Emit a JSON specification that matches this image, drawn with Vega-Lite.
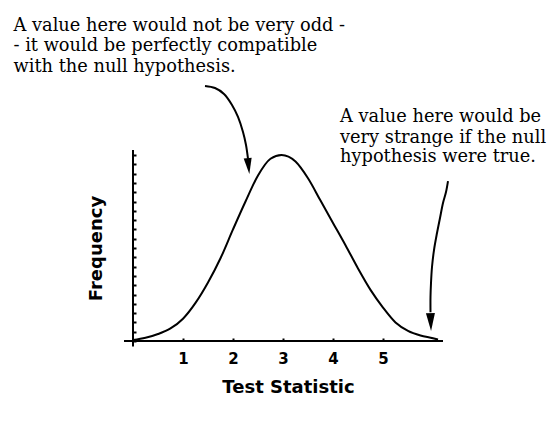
{
  "$schema": "https://vega.github.io/schema/vega-lite/v6.json",
  "width": 310,
  "height": 186,
  "autosize": "none",
  "padding": {"left": 133, "top": 155, "right": 114, "bottom": 84},
  "background": "white",
  "config": {
    "view": {"stroke": null},
    "axis": {
      "domain": false,
      "grid": false,
      "tickColor": "black",
      "tickWidth": 2,
      "tickSize": -3,
      "labelFont": "DejaVu Sans",
      "labelFontWeight": "bold",
      "labelFontSize": 15,
      "labelColor": "black",
      "titleFont": "DejaVu Sans",
      "titleFontWeight": "bold",
      "titleFontSize": 18,
      "titleColor": "black"
    }
  },
  "datasets": {
    "curve": [
      {"x": 0, "y": 0.1}, {"x": 0.25, "y": 0.35}, {"x": 0.5, "y": 0.75}, {"x": 0.75, "y": 1.35},
      {"x": 1, "y": 2.4}, {"x": 1.25, "y": 4.1}, {"x": 1.5, "y": 6.3},
      {"x": 1.75, "y": 8.9}, {"x": 2, "y": 12.0}, {"x": 2.25, "y": 15.0}, {"x": 2.5, "y": 17.8},
      {"x": 2.75, "y": 19.6}, {"x": 2.97, "y": 20.0}, {"x": 3.25, "y": 19.3},
      {"x": 3.5, "y": 17.5}, {"x": 3.75, "y": 15.1}, {"x": 4, "y": 12.7}, {"x": 4.25, "y": 10.3},
      {"x": 4.5, "y": 7.8}, {"x": 4.75, "y": 5.5}, {"x": 5, "y": 3.6}, {"x": 5.25, "y": 2.0},
      {"x": 5.5, "y": 1.1}, {"x": 5.75, "y": 0.6}, {"x": 6, "y": 0.3}, {"x": 6.1, "y": 0.15}
    ],
    "arrows": [
      {"arrow": "a", "i": 0, "x": 1.44, "y": 27.42},
      {"arrow": "a", "i": 1, "x": 1.64, "y": 27.2},
      {"arrow": "a", "i": 2, "x": 1.82, "y": 26.56},
      {"arrow": "a", "i": 3, "x": 1.98, "y": 25.38},
      {"arrow": "a", "i": 4, "x": 2.10, "y": 24.09},
      {"arrow": "a", "i": 5, "x": 2.20, "y": 22.47},
      {"arrow": "a", "i": 6, "x": 2.26, "y": 21.08},
      {"arrow": "a", "i": 7, "x": 2.30, "y": 19.6},
      {"arrow": "b", "i": 0, "x": 6.3, "y": 17.2},
      {"arrow": "b", "i": 1, "x": 6.26, "y": 16.02},
      {"arrow": "b", "i": 2, "x": 6.2, "y": 14.84},
      {"arrow": "b", "i": 3, "x": 6.14, "y": 13.23},
      {"arrow": "b", "i": 4, "x": 6.08, "y": 11.61},
      {"arrow": "b", "i": 5, "x": 6.02, "y": 9.78},
      {"arrow": "b", "i": 6, "x": 5.98, "y": 7.96},
      {"arrow": "b", "i": 7, "x": 5.96, "y": 6.24},
      {"arrow": "b", "i": 8, "x": 5.95, "y": 4.73},
      {"arrow": "b", "i": 9, "x": 5.95, "y": 3.1}
    ],
    "heads": [
      {"arrow": "a", "x": 2.31, "y": 18.8},
      {"arrow": "b", "x": 5.955, "y": 2.04}
    ],
    "notes": [
      {"x": -2.39, "y": 33.33, "text": "A value here would not be very odd -"},
      {"x": -2.39, "y": 31.13, "text": "- it would be perfectly compatible"},
      {"x": -2.39, "y": 28.92, "text": "with the null hypothesis."},
      {"x": 4.14, "y": 23.52, "text": "A value here would be"},
      {"x": 4.14, "y": 21.34, "text": "very strange if the null"},
      {"x": 4.14, "y": 19.25, "text": "hypothesis were true."}
    ],
    "axes": [
      {"x": -0.18, "x2": 6.2, "y": 0, "y2": 0},
      {"x": 0, "x2": 0, "y": -0.6, "y2": 20.55}
    ]
  },
  "encoding": {
    "x": {
      "field": "x",
      "type": "quantitative",
      "scale": {"domain": [0, 6.2], "nice": false, "zero": false},
      "axis": {"values": [1, 2, 3, 4, 5], "title": "Test Statistic", "labelPadding": 13, "labelBaseline": "top", "titlePadding": 12}
    },
    "y": {
      "field": "y",
      "type": "quantitative",
      "scale": {"domain": [0, 20], "nice": false, "zero": false},
      "axis": {"values": [0,1,2,3,4,5,6,7,8,9,10,11,12,13,14,15,16,17,18,19,20], "labels": false, "title": "Frequency", "titlePadding": 27}
    }
  },
  "layer": [
    {
      "data": {"name": "axes"},
      "mark": {"type": "rule", "color": "black", "strokeWidth": 2},
      "encoding": {"x2": {"field": "x2"}, "y2": {"field": "y2"}}
    },
    {
      "data": {"name": "curve"},
      "mark": {"type": "line", "color": "black", "strokeWidth": 2, "interpolate": "monotone"},
      "encoding": {}
    },
    {
      "data": {"name": "arrows"},
      "mark": {"type": "line", "color": "black", "strokeWidth": 2, "interpolate": "catmull-rom"},
      "encoding": {"detail": {"field": "arrow"}, "order": {"field": "i"}}
    },
    {
      "data": {"name": "heads"},
      "transform": [{"filter": "datum.arrow == 'a'"}],
      "mark": {"type": "point", "shape": "M-0.5,-1L0.5,-1L0,1Z", "filled": true, "color": "black", "opacity": 1, "size": 256, "angle": -6}
    },
    {
      "data": {"name": "heads"},
      "transform": [{"filter": "datum.arrow == 'b'"}],
      "mark": {"type": "point", "shape": "M-0.5,-1L0.5,-1L0,1Z", "filled": true, "color": "black", "opacity": 1, "size": 324, "angle": -2}
    },
    {
      "data": {"name": "notes"},
      "mark": {"type": "text", "font": "DejaVu Serif", "fontSize": 17.8, "color": "black", "align": "left", "baseline": "alphabetic"},
      "encoding": {"text": {"field": "text"}}
    }
  ]
}
